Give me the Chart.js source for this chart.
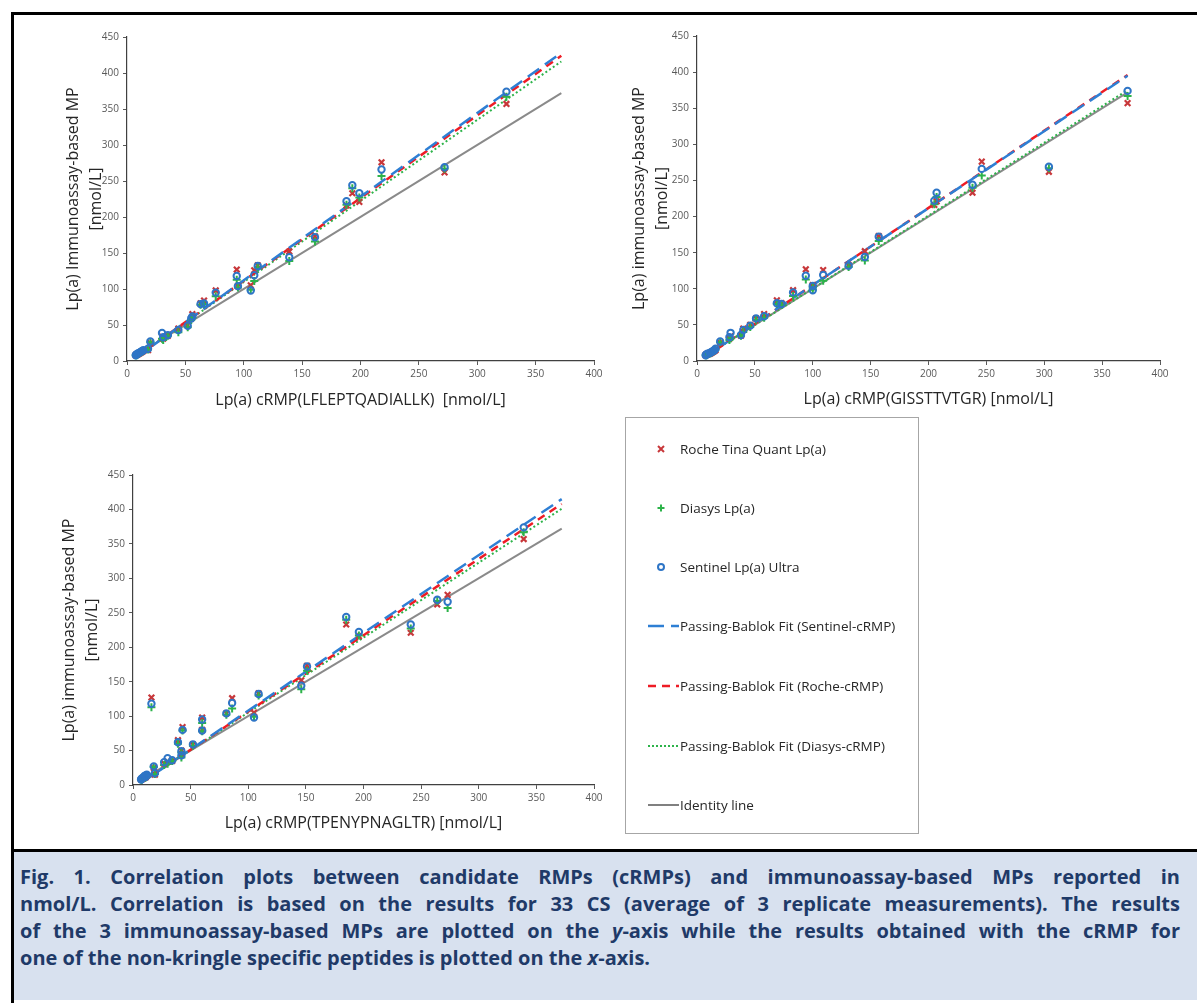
<!DOCTYPE html>
<html>
<head>
<meta charset="utf-8">
<script src="https://cdn.jsdelivr.net/npm/chart.js@4.4.1/dist/chart.umd.min.js"></script>
<style>
    body { margin: 0; width: 1197px; height: 1003px; position: relative; background: #fff; overflow: hidden; font-family: "Open Sans", sans-serif; }
    .bar { position: absolute; background: #000; }
    canvas { position: absolute; }
    #legend { position: absolute; left: 625px; top: 417px; width: 294px; height: 417px; border: 1.5px solid #a6a6a6; box-sizing: border-box; }
    .row { position: absolute; left: 0; height: 20px; font-size: 13.5px; color: #262626; line-height: 20px; }
    .row svg { position: absolute; left: 20px; top: 2px; }
    .row span { position: absolute; left: 54px; white-space: nowrap; }
    #caption { position: absolute; left: 14px; top: 852px; width: 1183px; height: 148px; background: #d8e1ef; }
    .cap { position: absolute; left: 6px; width: 1160px; font-weight: 700; font-size: 20px; line-height: 27px; color: #1f3a68; white-space: nowrap; }
    .cap.j { text-align: justify; text-align-last: justify; white-space: normal; }
</style>
</head>
<body>
<div class="bar" style="left:11px;top:12px;width:1186px;height:3px"></div>
<div class="bar" style="left:11px;top:12px;width:3px;height:991px"></div>
<div class="bar" style="left:11px;top:849px;width:1186px;height:3px"></div>

<canvas id="c1" width="570" height="400" style="left:40px;top:20px"></canvas>
<canvas id="c2" width="570" height="400" style="left:610px;top:20px"></canvas>
<canvas id="c3" width="570" height="400" style="left:40px;top:440px"></canvas>

<div id="legend">
    <div class="row" style="top:21px"><svg width="30" height="16"><path d="M12 5 L18 11 M18 5 L12 11" stroke="#c8373a" stroke-width="2"/></svg><span>Roche Tina Quant Lp(a)</span></div>
    <div class="row" style="top:80px"><svg width="30" height="16"><path d="M15 4.5 L15 11.5 M11.5 8 L18.5 8" stroke="#2db34a" stroke-width="2"/></svg><span>Diasys Lp(a)</span></div>
    <div class="row" style="top:139px"><svg width="30" height="16"><circle cx="15" cy="8" r="3" fill="none" stroke="#2e75c6" stroke-width="2"/></svg><span>Sentinel Lp(a) Ultra</span></div>
    <div class="row" style="top:198px"><svg width="34" height="16"><path d="M2 8 L33 8" stroke="#2e7fd4" stroke-width="2.5" stroke-dasharray="16,7"/></svg><span>Passing-Bablok Fit (Sentinel-cRMP)</span></div>
    <div class="row" style="top:258px"><svg width="34" height="16"><path d="M2 8 L33 8" stroke="#ee1c25" stroke-width="2.5" stroke-dasharray="8,6"/></svg><span>Passing-Bablok Fit (Roche-cRMP)</span></div>
    <div class="row" style="top:318px"><svg width="34" height="16"><path d="M2 8 L33 8" stroke="#2db34a" stroke-width="2" stroke-dasharray="2,2"/></svg><span>Passing-Bablok Fit (Diasys-cRMP)</span></div>
    <div class="row" style="top:377px"><svg width="34" height="16"><path d="M2 8 L33 8" stroke="#808080" stroke-width="2"/></svg><span>Identity line</span></div>
</div>

<div id="caption">
    <div class="cap j" style="top:11px">Fig. 1. Correlation plots between candidate RMPs (cRMPs) and immunoassay-based MPs reported in</div>
    <div class="cap j" style="top:38px">nmol/L. Correlation is based on the results for 33 CS (average of 3 replicate measurements). The results</div>
    <div class="cap j" style="top:65px">of the 3 immunoassay-based MPs are plotted on the <i>y</i>-axis while the results obtained with the cRMP for</div>
    <div class="cap" style="top:92px">one of the non-kringle specific peptides is plotted on the <i>x</i>-axis.</div>
</div>

<script>
// 33 CS, immunoassay results (y) are the same in every panel
const roche = [357, 262, 276, 221, 233, 216, 173, 152, 133, 126, 105, 127, 104, 98, 84, 80, 65, 59, 50, 45, 35, 34, 31, 25, 15, 14, 13, 12, 11, 10, 9, 9, 8];
const diasys = [367, 267, 257, 227, 240, 217, 166, 139, 130, 111, 99, 113, 102, 90, 79, 78, 60, 57, 47, 40, 35, 31, 29, 26, 16, 14, 13, 12, 11, 10, 9, 8, 8];
const sentinel = [374, 269, 266, 233, 244, 222, 172, 144, 132, 119, 98, 118, 104, 95, 80, 79, 62, 59, 49, 43, 36, 39, 33, 27, 17, 15, 14, 13, 12, 11, 10, 9, 8];

// cRMP results (x) per peptide
const xLFLEPTQADIALLK = [325, 272, 218, 199, 193, 188, 161, 139, 112, 109, 106, 94, 95, 76, 66, 63, 56, 55, 52, 44, 35, 30, 31, 20, 18, 14, 13, 12, 11, 10, 9, 8, 7.5];
const xGISSTTVTGR = [372, 304, 246, 207, 238, 205, 157, 145, 131, 109, 100, 94, 100, 83, 69, 73, 58, 51, 46, 40, 38, 29, 28, 20, 16, 15, 14, 13, 12, 11, 9, 8, 7.5];
const xTPENYPNAGLTR = [339, 264, 273, 241, 185, 196, 151, 146, 109, 86, 105, 16, 81, 60, 43, 60, 39, 52, 42, 42, 34, 30, 27, 18, 19, 12, 11, 10, 11, 9, 8, 7.5, 7];

// Passing-Bablok fit lines, drawn between two x values
const fitX = [7, 372];
const sentinelFit = [[4, 428], [6, 395], [3, 415]];
const rocheFit = [[4.5, 424], [5.5, 396], [3.5, 408]];
const diasysFit = [[5, 416], [6.5, 375], [4, 401]];
const identity = [7, 372];

const xTitles = [
    "Lp(a) cRMP(LFLEPTQADIALLK)  [nmol/L]",
    "Lp(a) cRMP(GISSTTVTGR) [nmol/L]",
    "Lp(a) cRMP(TPENYPNAGLTR) [nmol/L]",
];
const yTitles = [
    ["Lp(a) Immunoassay-based MP", "[nmol/L]"],
    ["Lp(a) immunoassay-based MP", "[nmol/L]"],
    ["Lp(a) immunoassay-based MP", "[nmol/L]"],
];

function pts(xs, ys) {
    return xs.map((x, i) => ({ x: x, y: ys[i] }));
}
function line(ys) {
    return [{ x: fitX[0], y: ys[0] }, { x: fitX[1], y: ys[1] }];
}

// per-panel layout tuning: y axis width, x axis height, paddings
const layouts = [
    { yw: 87, xh: 59, top: 17, right: 16, yPad: 22, xPad: 10 },
    { yw: 87, xh: 59, top: 16, right: 20, yPad: 18, xPad: 11 },
    { yw: 93, xh: 55, top: 35, right: 16, yPad: 18, xPad: 7 },
];

const xSets = [xLFLEPTQADIALLK, xGISSTTVTGR, xTPENYPNAGLTR];

function makeChart(id, k) {
    const L = layouts[k];
    const xs = xSets[k];
    new Chart(document.getElementById(id), {
        type: "scatter",
        data: {
            datasets: [
                {
                    label: "Sentinel Lp(a) Ultra",
                    data: pts(xs, sentinel),
                    pointStyle: "circle",
                    pointRadius: 3.2,
                    borderColor: "#2e75c6",
                    backgroundColor: "rgba(255,255,255,0)",
                    pointBorderWidth: 2,
                },
                {
                    label: "Diasys Lp(a)",
                    data: pts(xs, diasys),
                    pointStyle: "cross",
                    pointRadius: 4,
                    borderColor: "#2db34a",
                    pointBorderWidth: 2,
                },
                {
                    label: "Roche Tina Quant Lp(a)",
                    data: pts(xs, roche),
                    pointStyle: "crossRot",
                    pointRadius: 4,
                    borderColor: "#c8373a",
                    pointBorderWidth: 2.2,
                },
                {
                    type: "line",
                    data: line(sentinelFit[k]),
                    borderColor: "#2e7fd4",
                    borderWidth: 2.5,
                    borderDash: [14, 7],
                    pointRadius: 0,
                },
                {
                    type: "line",
                    data: line(rocheFit[k]),
                    borderColor: "#ee1c25",
                    borderWidth: 2.5,
                    borderDash: [8, 6],
                    pointRadius: 0,
                },
                {
                    type: "line",
                    data: line(diasysFit[k]),
                    borderColor: "#2db34a",
                    borderWidth: 2,
                    borderDash: [2, 2.5],
                    pointRadius: 0,
                },
                {
                    type: "line",
                    data: [{ x: identity[0], y: identity[0] }, { x: identity[1], y: identity[1] }],
                    borderColor: "#8a8a8a",
                    borderWidth: 2,
                    pointRadius: 0,
                },
            ],
        },
        options: {
            responsive: false,
            animation: false,
            layout: { padding: { top: L.top, right: L.right, left: 0, bottom: 0 } },
            plugins: { legend: { display: false }, tooltip: { enabled: false } },
            scales: {
                x: {
                    min: 0, max: 400,
                    afterFit: (s) => { s.height = L.xh; },
                    ticks: { stepSize: 50, color: "#595959", font: { family: "Open Sans", size: 10 }, padding: 3, maxRotation: 0 },
                    grid: { drawOnChartArea: false, tickLength: 4, color: "#595959" },
                    border: { color: "#404040", width: 1.2 },
                    title: { display: true, text: xTitles[k], color: "#262626", font: { family: "Open Sans", size: 16 }, padding: { top: 0, bottom: L.xPad } },
                },
                y: {
                    min: 0, max: 450,
                    afterFit: (s) => { s.width = L.yw; },
                    ticks: { stepSize: 50, color: "#595959", font: { family: "Open Sans", size: 10 }, padding: 4 },
                    grid: { drawOnChartArea: false, tickLength: 4, color: "#595959" },
                    border: { color: "#404040", width: 1.2 },
                    title: { display: true, text: yTitles[k], color: "#262626", font: { family: "Open Sans", size: 16, lineHeight: 1.45 }, padding: { top: L.yPad, bottom: 0 } },
                },
            },
        },
    });
}

makeChart("c1", 0);
makeChart("c2", 1);
makeChart("c3", 2);
</script>
</body>
</html>
